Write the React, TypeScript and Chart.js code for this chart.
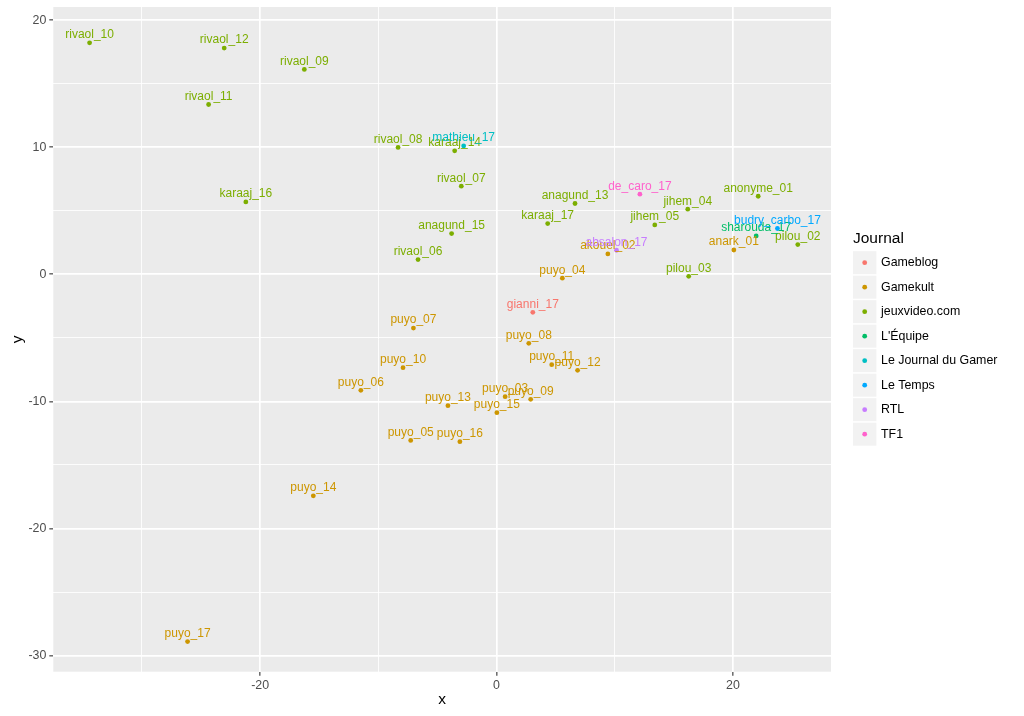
import { useEffect, useRef } from 'react';
import { Chart, registerables } from 'chart.js';

Chart.register(...registerables);

const FONT = '"Liberation Sans", Arial, Helvetica, sans-serif';

const journals = ['Gameblog', 'Gamekult', 'jeuxvideo.com', "L'Équipe", 'Le Journal du Gamer', 'Le Temps', 'RTL', 'TF1'];
const journalColors = ['#F8766D', '#CD9600', '#7CAE00', '#00BE67', '#00BFC4', '#00A9FF', '#C77CFF', '#FF61CC'];

const pointNames = [
  'gianni_17',
  'akouel_02', 'anark_01', 'puyo_03', 'puyo_04', 'puyo_05', 'puyo_06', 'puyo_07', 'puyo_08', 'puyo_09',
  'puyo_10', 'puyo_11', 'puyo_12', 'puyo_13', 'puyo_14', 'puyo_15', 'puyo_16', 'puyo_17',
  'anagund_13', 'anagund_15', 'anonyme_01', 'jihem_04', 'jihem_05', 'karaaj_14', 'karaaj_16', 'karaaj_17',
  'pilou_02', 'pilou_03', 'rivaol_06', 'rivaol_07', 'rivaol_08', 'rivaol_09', 'rivaol_10', 'rivaol_11', 'rivaol_12',
  'sharouda_17',
  'mathieu_17',
  'budry_carbo_17',
  'absalon_17',
  'de_caro_17',
];
const pointJournals = [
  'Gameblog',
  'Gamekult', 'Gamekult', 'Gamekult', 'Gamekult', 'Gamekult', 'Gamekult', 'Gamekult', 'Gamekult', 'Gamekult',
  'Gamekult', 'Gamekult', 'Gamekult', 'Gamekult', 'Gamekult', 'Gamekult', 'Gamekult', 'Gamekult',
  'jeuxvideo.com', 'jeuxvideo.com', 'jeuxvideo.com', 'jeuxvideo.com', 'jeuxvideo.com', 'jeuxvideo.com', 'jeuxvideo.com', 'jeuxvideo.com',
  'jeuxvideo.com', 'jeuxvideo.com', 'jeuxvideo.com', 'jeuxvideo.com', 'jeuxvideo.com', 'jeuxvideo.com', 'jeuxvideo.com', 'jeuxvideo.com', 'jeuxvideo.com',
  "L'Équipe",
  'Le Journal du Gamer',
  'Le Temps',
  'RTL',
  'TF1',
];
const pointX = [
  3.07,
  9.42, 20.08, 0.73, 5.57, -7.26, -11.48, -7.03, 2.73, 2.89,
  -7.91, 4.67, 6.86, -4.11, -15.5, 0.03, -3.1, -26.14,
  6.64, -3.8, 22.14, 16.18, 13.39, -3.54, -21.21, 4.33,
  25.49, 16.26, -6.64, -2.98, -8.33, -16.26, -34.43, -24.36, -23.04,
  21.97,
  -2.78,
  23.77,
  10.15,
  12.13,
];
const pointY = [
  -2.99,
  1.6, 1.91, -9.63, -0.31, -13.07, -9.13, -4.23, -5.43, -9.84,
  -7.35, -7.11, -7.56, -10.34, -17.43, -10.89, -13.17, -28.9,
  5.57, 3.2, 6.14, 5.12, 3.88, 9.71, 5.69, 3.99,
  2.34, -0.16, 1.16, 6.93, 9.98, 16.12, 18.21, 13.36, 17.8,
  3.02,
  10.1,
  3.6,
  1.89,
  6.3,
];

const xTickValues = [-30, -20, -10, 0, 10, 20];
const xLabelValues = [-20, 0, 20];
const yTickValues = [-30, -25, -20, -15, -10, -5, 0, 5, 10, 15, 20];
const yLabelValues = [-30, -20, -10, 0, 10, 20];
const xLimits = [-37.5, 28.3];
const yLimits = [-31.27, 21.03];

const bgPlugin = {
  id: 'panelBg',
  beforeDraw(chart: any) {
    const { ctx, chartArea } = chart;
    ctx.save();
    ctx.fillStyle = '#EBEBEB';
    ctx.fillRect(chartArea.left, chartArea.top, chartArea.right - chartArea.left, chartArea.bottom - chartArea.top);
    ctx.restore();
  },
};

const labelPlugin = {
  id: 'pointLabels',
  afterDatasetsDraw(chart: any) {
    const ctx = chart.ctx;
    ctx.save();
    ctx.font = `12px ${FONT}`;
    ctx.textAlign = 'center';
    ctx.textBaseline = 'alphabetic';
    chart.data.datasets.forEach((ds: any, di: number) => {
      const meta = chart.getDatasetMeta(di);
      meta.data.forEach((el: any, i: number) => {
        ctx.fillStyle = ds.backgroundColor;
        ctx.fillText(ds.data[i].name, el.x, el.y - 4.7);
      });
    });
    ctx.restore();
  },
};

const legendPlugin = {
  id: 'ggLegend',
  afterDraw(chart: any) {
    const ctx = chart.ctx;
    const left = 853;
    ctx.save();
    ctx.fillStyle = '#000000';
    ctx.font = `15.5px ${FONT}`;
    ctx.textAlign = 'left';
    ctx.textBaseline = 'middle';
    ctx.fillText('Journal', left, 239);
    journals.forEach((j, i) => {
      const cy = 262.7 + i * 24.5;
      ctx.fillStyle = '#F2F2F2';
      ctx.fillRect(left, cy - 11.5, 23.4, 23);
      ctx.fillStyle = journalColors[i];
      ctx.beginPath();
      ctx.arc(left + 11.7, cy, 2.4, 0, Math.PI * 2);
      ctx.fill();
      ctx.fillStyle = '#000000';
      ctx.font = `12.4px ${FONT}`;
      ctx.fillText(j, left + 28, cy);
    });
    ctx.restore();
  },
};

export default function App() {
  const ref = useRef<HTMLCanvasElement | null>(null);

  useEffect(() => {
    document.body.style.margin = '0';
    if (!ref.current) return;
    const datasets = journals.map((j, ji) => ({
      label: j,
      data: pointNames
        .map((n, i) => ({ x: pointX[i], y: pointY[i], name: n, j: pointJournals[i] }))
        .filter((d) => d.j === j),
      backgroundColor: journalColors[ji],
      borderColor: journalColors[ji],
      pointRadius: 2.4,
      pointBorderWidth: 0,
      pointHoverRadius: 2.4,
    }));

    const gridCfg = (majors: number[]) => ({
      color: '#FFFFFF',
      lineWidth: (c: any) => (c.tick && majors.includes(c.tick.value) ? 1.7 : 0.85),
      tickColor: (c: any) => (c.tick && majors.includes(c.tick.value) ? '#333333' : 'rgba(0,0,0,0)'),
      tickLength: 4,
      tickWidth: 1.1,
      drawTicks: true,
      drawOnChartArea: true,
    });

    const chart = new Chart(ref.current, {
      type: 'scatter',
      data: { datasets },
      plugins: [bgPlugin, labelPlugin, legendPlugin],
      options: {
        animation: false,
        responsive: false,
        devicePixelRatio: 1,
        layout: { padding: { left: 0, right: 193, top: 7, bottom: 0 } },
        plugins: { legend: { display: false }, tooltip: { enabled: false } },
        scales: {
          x: {
            type: 'linear',
            min: xLimits[0],
            max: xLimits[1],
            afterBuildTicks: (s: any) => {
              s.ticks = xTickValues.map((v) => ({ value: v }));
            },
            afterFit: (s: any) => {
              s.height = 44.3;
              s.paddingLeft = 0;
              s.paddingRight = 0;
            },
            grid: gridCfg(xLabelValues),
            border: { display: false },
            ticks: {
              autoSkip: false,
              maxRotation: 0,
              padding: 2,
              color: '#4D4D4D',
              font: { family: FONT, size: 12.4 },
              callback: (v: any) => (xLabelValues.includes(v) ? String(v) : ''),
            },
            title: {
              display: true,
              text: 'x',
              color: '#000000',
              font: { family: FONT, size: 15.5 },
              padding: { top: 0, bottom: 6.7 },
            },
          },
          y: {
            type: 'linear',
            min: yLimits[0],
            max: yLimits[1],
            afterBuildTicks: (s: any) => {
              s.ticks = yTickValues.map((v) => ({ value: v }));
            },
            afterFit: (s: any) => {
              s.width = 53.3;
              s.paddingTop = 0;
              s.paddingBottom = 0;
            },
            grid: gridCfg(yLabelValues),
            border: { display: false },
            ticks: {
              autoSkip: false,
              padding: 3,
              color: '#4D4D4D',
              font: { family: FONT, size: 12.4 },
              callback: (v: any) => (yLabelValues.includes(v) ? String(v) : ''),
            },
            title: {
              display: true,
              text: 'y',
              color: '#000000',
              font: { family: FONT, size: 15.5 },
              padding: { top: 8.7, bottom: 0 },
            },
          },
        },
      } as any,
    });
    return () => chart.destroy();
  }, []);

  return (
    <div style={{ width: 1024, height: 716, position: 'relative' }}>
      <canvas ref={ref} width={1024} height={716} style={{ display: 'block' }} />
    </div>
  );
}
